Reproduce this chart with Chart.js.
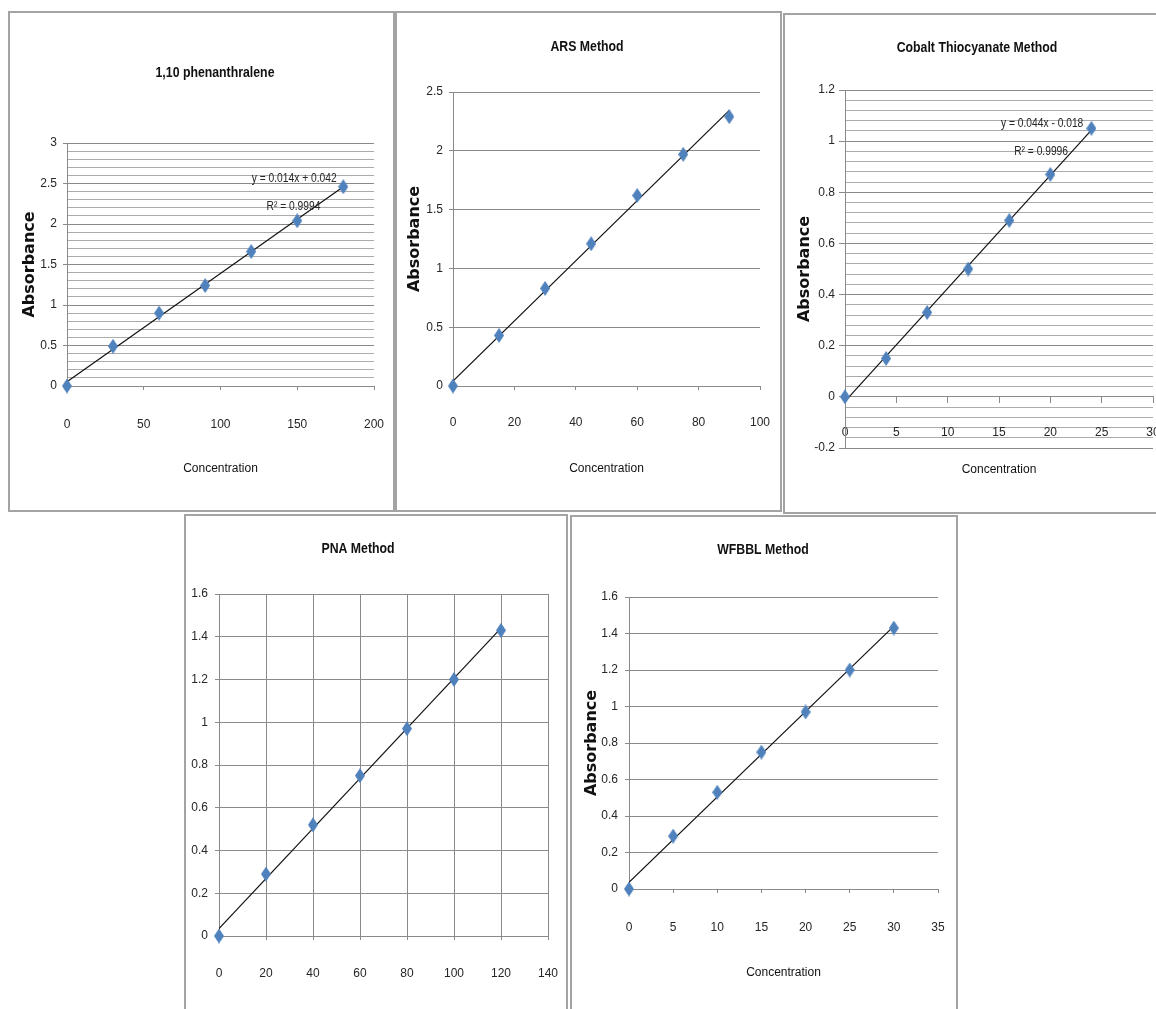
<!DOCTYPE html>
<html>
<head>
<meta charset="utf-8">
<title>Calibration curves</title>
<script src="https://cdn.jsdelivr.net/npm/chart.js@4.4.1/dist/chart.umd.min.js"></script>
<style>
  html, body { margin: 0; padding: 0; background: #fff; }
  body { width: 1156px; height: 1009px; overflow: hidden; position: relative; }
  .panel { position: absolute; box-sizing: border-box; border: 2px solid #a3a3a3; background: #fff; }
  .panel canvas { display: block; }
</style>
</head>
<body>
<script>
// values
const phenConc = [0, 30, 60, 90, 120, 150, 180];
const phenAbs  = [0, 0.49, 0.9, 1.24, 1.66, 2.04, 2.46];
const arsConc  = [0, 15, 30, 45, 60, 75, 90];
const arsAbs   = [0, 0.43, 0.83, 1.21, 1.62, 1.97, 2.29];
const cobConc  = [0, 4, 8, 12, 16, 20, 24];
const cobAbs   = [0, 0.15, 0.33, 0.5, 0.69, 0.87, 1.05];
const pnaConc  = [0, 20, 40, 60, 80, 100, 120];
const pnaAbs   = [0, 0.29, 0.52, 0.75, 0.97, 1.2, 1.43];
const wfConc   = [0, 5, 10, 15, 20, 25, 30];
const wfAbs    = [0, 0.29, 0.53, 0.75, 0.97, 1.2, 1.43];

const titles = ['1,10 phenanthralene', 'ARS Method', 'Cobalt Thiocyanate Method', 'PNA Method', 'WFBBL Method'];
const phenEq = ['y = 0.014x + 0.042', 'R\u00B2 = 0.9994'];
const cobEq  = ['y = 0.044x - 0.018', 'R\u00B2 = 0.9996'];

// axis ranges per panel
const xMax   = [200, 100, 30, 140, 35];
const xStep  = [50, 20, 5, 20, 5];
const yMin   = [0, 0, -0.2, 0, 0];
const yMax   = [3, 2.5, 1.2, 1.6, 1.6];
const yMajor = [0.5, 0.5, 0.2, 0.2, 0.2];

const FONT = "'Liberation Sans Narrow', 'Arial Narrow', 'Liberation Sans', sans-serif";
const HEAVY = "'DejaVu Sans', sans-serif";
const MAJOR = '#8a8a8a', MINOR = '#ababab', INK = '#262626';
const SQUEEZE = 0.82; // no narrow font installed, so squeeze the hand drawn texts a bit

// excel-ish blue diamond marker
function diamond() {
  const c = document.createElement('canvas');
  c.width = 10; c.height = 15;
  const g = c.getContext('2d');
  g.fillStyle = '#4f81bd';
  g.beginPath();
  g.moveTo(5, 0); g.lineTo(10, 7.5); g.lineTo(5, 15); g.lineTo(0, 7.5);
  g.closePath(); g.fill();
  return c;
}
const DIAMOND = diamond();

// least squares line (the linear trendline)
function trend(xs, ys) {
  const n = xs.length;
  const mx = xs.reduce((s, v) => s + v, 0) / n;
  const my = ys.reduce((s, v) => s + v, 0) / n;
  let sxy = 0, sxx = 0;
  xs.forEach((x, i) => { sxy += (x - mx) * (ys[i] - my); sxx += (x - mx) * (x - mx); });
  const a = sxy / sxx;
  return { a, b: my - a * mx };
}

// frame of each panel on the page: box, plot area, where titles/labels sit
const panels = [
  { xs: phenConc, ys: phenAbs, minor: 0.1, box: [8, 11, 387, 501], plot: [67, 143, 374, 386],
    head: [215, 73], yTitle: 30, xTitle: 469, xLabel: 425, gap: 10,
    notes: [[phenEq[0], 148, 2.56], [phenEq[1], 147.5, 2.22]] },
  { xs: arsConc, ys: arsAbs, box: [395, 11, 387, 501], plot: [453, 92, 760, 386],
    head: [587, 47], yTitle: 415, xTitle: 469, xLabel: 423, gap: 10 },
  { xs: cobConc, ys: cobAbs, minor: 0.04, box: [783, 13, 400, 501], plot: [845, 90, 1153, 448],
    head: [977, 48], yTitle: 805, xTitle: 470, xLabel: 433, gap: 10, atZero: true, tick: 6,
    notes: [[cobEq[0], 19.2, 1.068], [cobEq[1], 19.1, 0.958]] },
  { xs: pnaConc, ys: pnaAbs, box: [184, 514, 384, 500], plot: [219, 594, 548, 936],
    head: [358, 549], xLabel: 974, gap: 11, xGrid: true },
  { xs: wfConc, ys: wfAbs, box: [570, 515, 388, 500], plot: [629, 597, 938, 889],
    head: [763, 550], yTitle: 592, xTitle: 973, xLabel: 928, gap: 11 }
];

function squeezedText(ctx, text, x, y) {
  ctx.save();
  ctx.translate(x, y);
  ctx.scale(SQUEEZE, 1);
  ctx.fillText(text, 0, 0);
  ctx.restore();
}

function textPlugin(p, ox, oy, k) {
  return {
    id: 'panelText' + k,
    afterDraw(chart) {
      const { ctx, scales } = chart;
      ctx.save();
      ctx.textAlign = 'center';
      ctx.textBaseline = 'middle';
      ctx.fillStyle = '#111';
      ctx.font = 'bold 15px ' + FONT;
      squeezedText(ctx, titles[k], p.head[0] - ox, p.head[1] - oy);
      ctx.font = '12.5px ' + FONT;
      ctx.fillStyle = INK;
      (p.notes || []).forEach(([t, x, y]) => {
        squeezedText(ctx, t, scales.x.getPixelForValue(x), scales.y.getPixelForValue(y));
      });
      ctx.restore();
    }
  };
}

function build(p, k) {
  const [bx, by, bw, bh] = p.box;
  const wrap = document.createElement('div');
  wrap.className = 'panel';
  Object.assign(wrap.style, { left: bx + 'px', top: by + 'px', width: bw + 'px', height: bh + 'px' });
  const canvas = document.createElement('canvas');
  const W = bw - 4, H = bh - 4, ox = bx + 2, oy = by + 2;
  canvas.width = W; canvas.height = H;
  wrap.appendChild(canvas);
  document.body.appendChild(wrap);

  const L = p.plot[0] - ox, T = p.plot[1] - oy, R = p.plot[2] - ox, B = p.plot[3] - oy;
  const lo = yMin[k], hi = yMax[k], major = yMajor[k];
  const axisY = p.atZero ? T + hi / (hi - lo) * (B - T) : B;
  const tl = p.tick || 4;
  const tickLh = 12 * 1.2, xtLh = 12 * 1.2, ytLh = 16 * 1.2;
  const xH = H - B;
  const isMajor = v => Math.abs(v / major - Math.round(v / major)) < 1e-6;
  const fit = trend(p.xs, p.ys);
  const last = p.xs[p.xs.length - 1];

  new Chart(canvas, {
    type: 'scatter',
    data: {
      datasets: [
        { data: p.xs.map((x, i) => ({ x, y: p.ys[i] })), pointStyle: DIAMOND, pointRadius: 7, clip: false },
        { type: 'line', data: [{ x: 0, y: fit.b }, { x: last, y: fit.a * last + fit.b }],
          borderColor: '#111', borderWidth: 1.2, pointRadius: 0, fill: false }
      ]
    },
    options: {
      responsive: false,
      animation: false,
      devicePixelRatio: 1,
      events: [],
      layout: { padding: { left: 0, top: T, right: W - R, bottom: p.atZero ? xH : 0 } },
      plugins: { legend: { display: false }, tooltip: { enabled: false } },
      scales: {
        x: {
          type: 'linear',
          position: p.atZero ? { y: 0 } : 'bottom',
          min: 0, max: xMax[k],
          ticks: { stepSize: xStep[k], maxRotation: 0, color: INK, font: { family: FONT, size: 12 },
                   padding: p.xLabel - oy - axisY - tl - tickLh / 2 },
          grid: { drawOnChartArea: !!p.xGrid, color: MAJOR, tickColor: MAJOR, tickLength: tl },
          border: { color: MAJOR },
          title: {
            display: !!p.xTitle, text: 'Concentration', color: '#111',
            font: { family: FONT, size: 12 },
            padding: { top: 0, bottom: axisY + xH - (p.xTitle - oy) - xtLh / 2 }
          },
          afterFit: s => { s.height = xH; s.paddingLeft = 0; s.paddingRight = 0; }
        },
        y: {
          min: lo, max: hi,
          ticks: { stepSize: p.minor || major, autoSkip: false, color: INK, font: { family: FONT, size: 12 },
                   padding: p.gap - tl, callback: v => isMajor(v) ? String(+v.toFixed(2)) : '' },
          grid: { color: c => isMajor(c.tick.value) ? MAJOR : MINOR,
                  tickColor: c => isMajor(c.tick.value) ? MAJOR : 'rgba(0,0,0,0)', tickLength: tl },
          border: { color: MAJOR },
          title: {
            display: !!p.yTitle, text: 'Absorbance', color: '#111',
            font: { family: HEAVY, size: 16, weight: 'bold' },
            padding: { top: (p.yTitle || 0) - ox - ytLh / 2, bottom: 0 }
          },
          afterFit: s => { s.width = L; s.paddingTop = 0; s.paddingBottom = 0; }
        }
      }
    },
    plugins: [textPlugin(p, ox, oy, k)]
  });
}

panels.forEach(build);
</script>
</body>
</html>
